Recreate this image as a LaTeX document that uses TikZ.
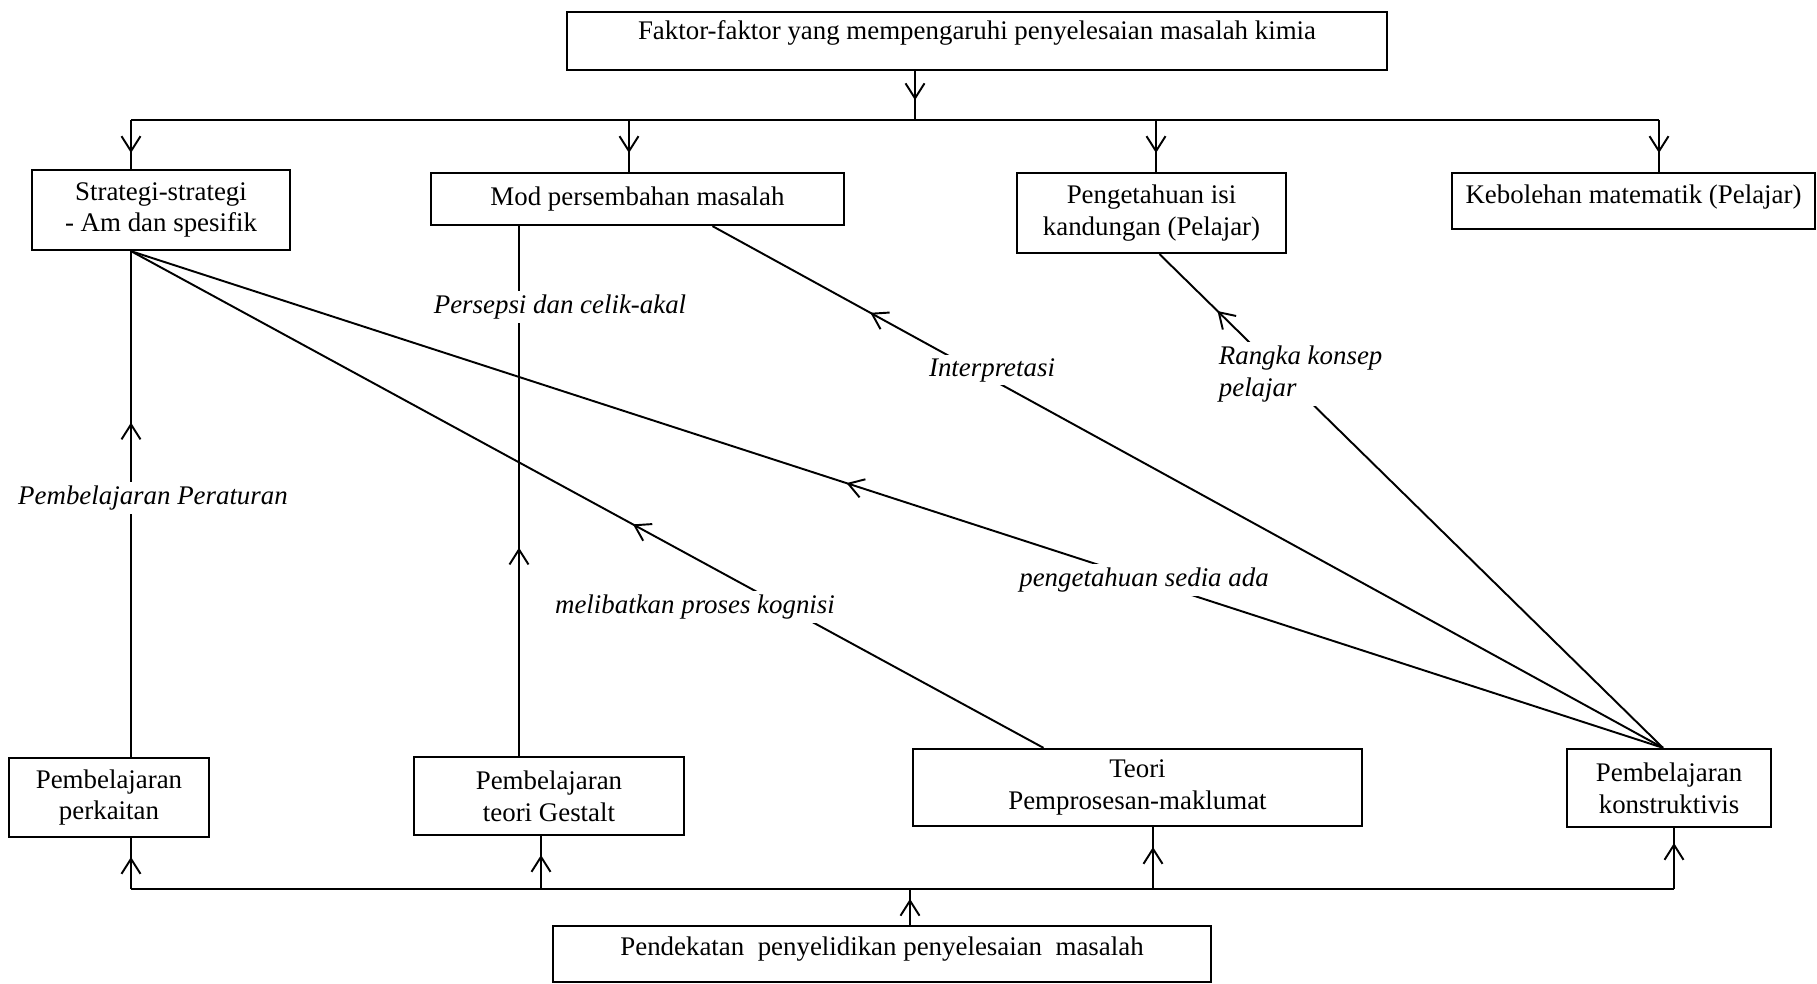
\documentclass[tikz,border=0pt]{standalone}
\usepackage{fontspec}
\setmainfont{Liberation Serif}
\usetikzlibrary{arrows.meta,calc,decorations.markings}

\begin{document}
\begin{tikzpicture}[x=0.02cm,y=-0.02cm,
  box/.style={draw,line width=1.3pt,align=center,inner sep=0pt,
    font=\fontsize{15.3}{18}\selectfont},
  boxsize/.style 2 args={minimum width=#1*0.02cm,minimum height=#2*0.02cm},
  lbl/.style={fill=white,inner sep=2pt,font=\fontsize{15.3}{18}\selectfont\itshape},
  link/.style={line width=1.1pt},
  bus/.style={line width=1.6pt},
  midtip/.style={postaction={decorate},decoration={markings,
    mark=at position #1 with {\arrow{Straight Barb[length=0.3cm,width=0.38cm,line width=1.1pt]}}}}]
  % Page frame (reference proportions).
  \useasboundingbox (0,0) rectangle (1817,983);
  % Boxes along the top.
  \node[box,boxsize={820}{58},text depth=12pt] (top) at (977,41)
    {Faktor-faktor yang mempengaruhi penyelesaian masalah kimia};
  \node[box,boxsize={258}{80}] (strat) at (161,210) {Strategi-strategi\\- Am dan spesifik};
  \node[box,boxsize={413}{52}] (mod) at (637.5,199) {Mod persembahan masalah};
  \node[box,boxsize={269}{80}] (isi) at (1151.5,213) {Pengetahuan isi\\kandungan (Pelajar)};
  \node[box,boxsize={363}{56},text depth=8pt] (kebol) at (1633.5,201) {Kebolehan matematik (Pelajar)};
  % Boxes along the bottom.
  \node[box,boxsize={200}{79}] (perk) at (109,797.5) {Pembelajaran\\perkaitan};
  \node[box,boxsize={270}{78}] (gest) at (549,796) {Pembelajaran\\teori Gestalt};
  \node[box,boxsize={449}{77}] (teori) at (1137.5,787.5) {Teori\\Pemprosesan-maklumat};
  \node[box,boxsize={204}{78}] (konstr) at (1669,788) {Pembelajaran\\konstruktivis};
  \node[box,boxsize={658}{56},text depth=9pt] (bottom) at (882,954)
    {Pendekatan\ \ penyelidikan penyelesaian\ \ masalah};
  % Upper bus: top box fans out to the four factors.
  \coordinate (tJ) at (915,120);
  \coordinate (tL) at (131,120);
  \coordinate (tM) at (629,120);
  \coordinate (tI) at (1156,120);
  \coordinate (tR) at (1659,120);
  \draw[link,midtip=0.58cm] (tJ |- top.south) -- (tJ);
  \draw[bus] (tL) -- (tR);
  \foreach \j/\b in {tL/strat,tM/mod,tI/isi,tR/kebol}
    \draw[link,midtip=0.66cm] (\j) -- (\j |- \b.north);
  % Lower bus: the approach feeds the four theories.
  \coordinate (bL) at (131,889);
  \coordinate (bG) at (541,889);
  \coordinate (bJ) at (910,889);
  \coordinate (bT) at (1153,889);
  \coordinate (bR) at (1674,889);
  \draw[bus] (bL) -- (bR);
  \draw[link,midtip=0.52cm] (bJ |- bottom.north) -- (bJ);
  \foreach \j/\b/\d in {bL/perk/0.64cm,bG/gest/0.68cm,bT/teori/0.84cm,bR/konstr/0.92cm}
    \draw[link,midtip=\d] (\j) -- (\j |- \b.south);
  % Theories pointing back up to the factors.
  \coordinate (kT) at ($(konstr.north)+(-6,0)$);
  \draw[link,midtip=0.661] (tL |- perk.north) -- (tL |- strat.south);
  \draw[link,midtip=0.45] ($(teori.north)+(-94,0)$) -- (tL |- strat.south);
  \draw[link,midtip=0.533] (kT) -- (tL |- strat.south);
  \draw[link,midtip=0.834] (kT) -- ($(mod.south)+(75,0)$);
  \draw[link,midtip=0.885] (kT) -- ($(isi.south)+(8,0)$);
  \draw[link,midtip=0.393] ($(gest.north)+(-30,0)$) -- ($(mod.south)+(-118.5,0)$);
  % Labels on the links.
  \node[lbl] (lPers) at (560,307) {Persepsi dan celik-akal};
  \node[lbl] (lInt) at (992,370) {Interpretasi};
  \node[lbl,anchor=west,align=left] (lRan) at (1215,374) {Rangka konsep\\pelajar};
  \node[lbl] (lPer) at (153,498) {Pembelajaran Peraturan};
  \node[lbl] (lSed) at (1144,580) {pengetahuan sedia ada};
  \node[lbl] (lKog) at (695,607) {melibatkan proses kognisi};
\end{tikzpicture}
\end{document}
